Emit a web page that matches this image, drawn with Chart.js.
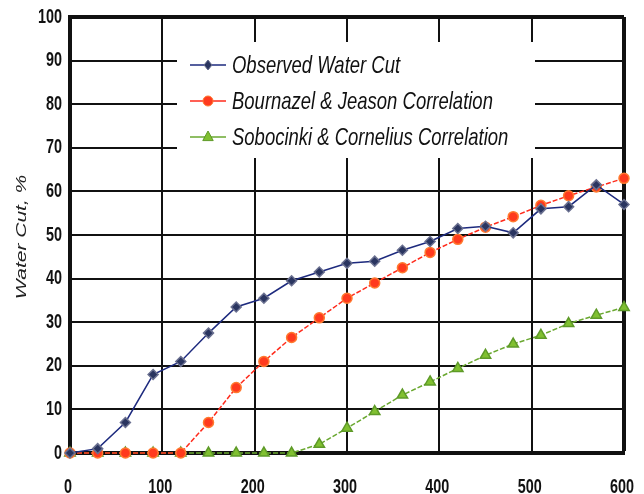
<!DOCTYPE html>
<html lang="en">
<head>
    <meta charset="UTF-8">
    <title>Water Cut</title>
    <script src="https://cdn.jsdelivr.net/npm/chart.js"></script>
    <style>
        html, body { margin: 0; padding: 0; background: #fff; overflow: hidden; }
    </style>
</head>
<body>
    <canvas id="chart" width="644" height="494"></canvas>

    <script>
        // time axis shared by all series
        const xValues = [0, 30, 60, 90, 120, 150, 180, 210, 240, 270, 300, 330, 360, 390, 420, 450, 480, 510, 540, 570, 600];

        const observed = [0, 1, 7, 18, 21, 27.5, 33.5, 35.5, 39.5, 41.5, 43.5, 44, 46.5, 48.5, 51.5, 52, 50.5, 56, 56.5, 61.5, 57];
        const bournazel = [0, 0, 0, 0, 0, 7, 15, 21, 26.5, 31, 35.5, 39, 42.5, 46, 49, 51.8, 54.2, 56.8, 59, 61, 63];
        const sobocinski = [0, 0, 0, 0, 0, 0, 0, 0, 0, 2, 5.7, 9.5, 13.3, 16.3, 19.4, 22.4, 25, 27, 29.7, 31.6, 33.4];

        const seriesNames = ['Observed Water Cut', 'Bournazel & Jeason Correlation', 'Sobocinki & Cornelius Correlation'];
        const yTitle = 'Water Cut, %';

        // the scanned original is squeezed sideways, so text is drawn narrow
        const SQUASH = 0.72;

        function squashText(ctx, text, x, y, font, align, sx) {
            ctx.save();
            ctx.translate(x, y);
            ctx.scale(sx, 1);
            ctx.font = font;
            ctx.textAlign = align;
            ctx.textBaseline = 'middle';
            ctx.fillText(text, 0, 0);
            ctx.restore();
        }

        function drawMarker(ctx, style, x, y, r, fill, stroke) {
            ctx.beginPath();
            if (style === 'rectRot') {
                ctx.moveTo(x, y - r); ctx.lineTo(x + r * 0.8, y); ctx.lineTo(x, y + r); ctx.lineTo(x - r * 0.8, y);
                ctx.closePath();
            } else if (style === 'triangle') {
                ctx.moveTo(x, y - r); ctx.lineTo(x + r * 0.87, y + r * 0.6); ctx.lineTo(x - r * 0.87, y + r * 0.6);
                ctx.closePath();
            } else {
                ctx.arc(x, y, r, 0, Math.PI * 2);
            }
            ctx.fillStyle = fill;
            ctx.fill();
            ctx.strokeStyle = stroke;
            ctx.lineWidth = 1;
            ctx.stroke();
        }

        // tick labels, axis title and the boxed legend
        const decorations = {
            id: 'decorations',
            beforeDatasetsDraw(chart) {
                const ctx = chart.ctx;
                const xs = chart.scales.x;
                const ys = chart.scales.y;
                const tickFont = "bold 20px 'Liberation Sans', Arial, sans-serif";
                ctx.save();
                ctx.fillStyle = '#111';

                ys.ticks.forEach((t) => {
                    squashText(ctx, String(t.value), 62, ys.getPixelForValue(t.value), tickFont, 'right', SQUASH);
                });
                xs.ticks.forEach((t) => {
                    squashText(ctx, String(t.value), xs.getPixelForValue(t.value) - 2, 487, tickFont, 'center', SQUASH);
                });

                // y axis title, rotated
                ctx.save();
                ctx.translate(22, 237);
                ctx.rotate(-Math.PI / 2);
                ctx.scale(1, SQUASH);
                ctx.font = "italic 21px 'Liberation Sans', Arial, sans-serif";
                ctx.textAlign = 'center';
                ctx.textBaseline = 'middle';
                ctx.fillStyle = '#222';
                ctx.fillText(yTitle, 0, 0);
                ctx.restore();

                // legend box covers the grid
                ctx.fillStyle = '#fff';
                ctx.fillRect(177, 42, 358, 116);
                chart.data.datasets.forEach((ds, i) => {
                    const y = 65 + i * 36;
                    ctx.strokeStyle = ds.borderColor;
                    ctx.lineWidth = 1.5;
                    ctx.setLineDash([]);
                    ctx.beginPath();
                    ctx.moveTo(190, y);
                    ctx.lineTo(226, y);
                    ctx.stroke();
                    drawMarker(ctx, ds.pointStyle, 208, y, ds.pointRadius, ds.pointBackgroundColor, ds.pointBorderColor);
                    ctx.fillStyle = '#111';
                    squashText(ctx, ds.label, 232, y + 1, "italic 24px 'Liberation Sans', Arial, sans-serif", 'left', 0.77);
                });
                ctx.restore();
            }
        };

        new Chart(document.getElementById('chart').getContext('2d'), {
            type: 'line',
            data: {
                datasets: [
                    {
                        label: seriesNames[0],
                        data: observed.map((v, i) => ({ x: xValues[i], y: v })),
                        borderColor: '#1d2a7e',
                        borderWidth: 1.5,
                        pointStyle: 'rectRot',
                        pointRadius: 5,
                        pointBackgroundColor: '#2a3560',
                        pointBorderColor: '#6a7090',
                        tension: 0
                    },
                    {
                        label: seriesNames[1],
                        data: bournazel.map((v, i) => ({ x: xValues[i], y: v })),
                        borderColor: '#ff2b1c',
                        borderWidth: 1.5,
                        borderDash: [5, 2],
                        pointStyle: 'circle',
                        pointRadius: 5,
                        pointBackgroundColor: '#ff3a1e',
                        pointBorderColor: '#ff7a30',
                        tension: 0
                    },
                    {
                        label: seriesNames[2],
                        data: sobocinski.map((v, i) => ({ x: xValues[i], y: v })),
                        borderColor: '#6aa830',
                        borderWidth: 1.5,
                        borderDash: [5, 2],
                        pointStyle: 'triangle',
                        pointRadius: 6,
                        pointBackgroundColor: '#80c030',
                        pointBorderColor: '#5e9a28',
                        tension: 0
                    }
                ]
            },
            options: {
                responsive: false,
                animation: false,
                clip: false,
                layout: { padding: { top: 17, right: 20, left: 0, bottom: 0 } },
                plugins: {
                    legend: { display: false },
                    tooltip: { enabled: false }
                },
                scales: {
                    x: {
                        type: 'linear',
                        min: 0,
                        max: 600,
                        ticks: { stepSize: 100, display: false },
                        grid: {
                            color: '#111',
                            lineWidth: (c) => (c.tick && c.tick.value === 600 ? 4 : 2),
                            drawTicks: false
                        },
                        border: { display: true, color: '#111', width: 4 },
                        afterFit(scale) { scale.height = 41; }
                    },
                    y: {
                        min: 0,
                        max: 100,
                        ticks: { stepSize: 10, display: false },
                        grid: {
                            color: '#111',
                            lineWidth: (c) => (c.tick && c.tick.value === 100 ? 4 : 2),
                            drawTicks: false
                        },
                        border: { display: true, color: '#111', width: 4 },
                        afterFit(scale) { scale.width = 70; }
                    }
                }
            },
            plugins: [decorations]
        });
    </script>
</body>
</html>
